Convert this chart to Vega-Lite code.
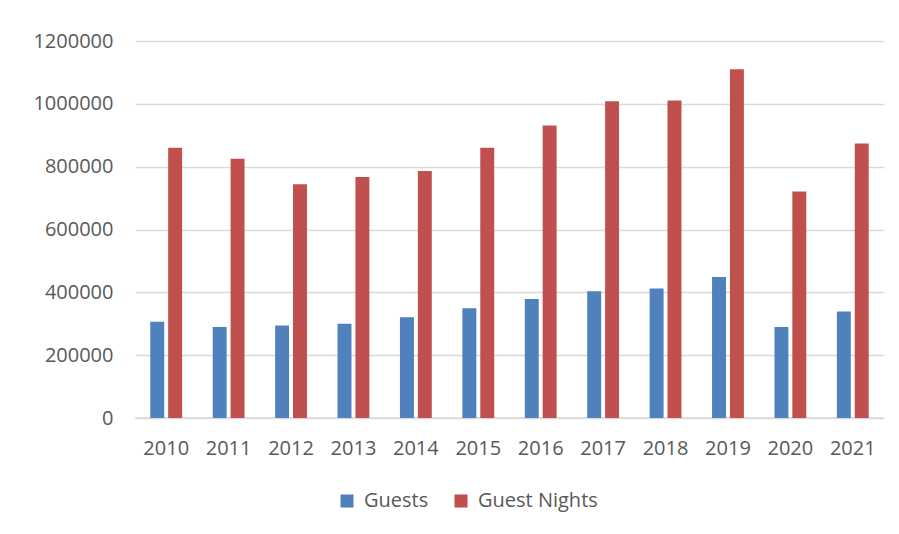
{
  "$schema": "https://vega.github.io/schema/vega-lite/v6.json",
  "autosize": "none",
  "width": 749,
  "height": 377,
  "padding": {"left": 135, "top": 41, "right": 15, "bottom": 116},
  "background": "white",
  "config": {
    "view": {"stroke": null},
    "font": "Open Sans",
    "axis": {"labelFont": "Open Sans", "labelColor": "#595959", "labelFontSize": 20, "domain": false, "ticks": false, "title": null}
  },
  "data": {
    "values": [
      {"year": "2010", "series": "Guests", "value": 306000},
      {"year": "2010", "series": "Guest Nights", "value": 860000},
      {"year": "2011", "series": "Guests", "value": 290000},
      {"year": "2011", "series": "Guest Nights", "value": 825000},
      {"year": "2012", "series": "Guests", "value": 294500},
      {"year": "2012", "series": "Guest Nights", "value": 744000},
      {"year": "2013", "series": "Guests", "value": 300000},
      {"year": "2013", "series": "Guest Nights", "value": 767000},
      {"year": "2014", "series": "Guests", "value": 321000},
      {"year": "2014", "series": "Guest Nights", "value": 786000},
      {"year": "2015", "series": "Guests", "value": 349500},
      {"year": "2015", "series": "Guest Nights", "value": 860000},
      {"year": "2016", "series": "Guests", "value": 379000},
      {"year": "2016", "series": "Guest Nights", "value": 931000},
      {"year": "2017", "series": "Guests", "value": 403600},
      {"year": "2017", "series": "Guest Nights", "value": 1008500},
      {"year": "2018", "series": "Guests", "value": 412000},
      {"year": "2018", "series": "Guest Nights", "value": 1010600},
      {"year": "2019", "series": "Guests", "value": 449000},
      {"year": "2019", "series": "Guest Nights", "value": 1110000},
      {"year": "2020", "series": "Guests", "value": 290000},
      {"year": "2020", "series": "Guest Nights", "value": 721000},
      {"year": "2021", "series": "Guests", "value": 339000},
      {"year": "2021", "series": "Guest Nights", "value": 874000}
    ]
  },
  "layer": [
    {
      "mark": {"type": "rule", "color": "#D9D9D9", "strokeWidth": 1.5},
      "data": {"values": [{"z": 0}]},
      "encoding": {"y": {"field": "z", "type": "quantitative"}}
    },
    {
      "mark": {"type": "bar"},
      "encoding": {
        "x": {
          "field": "year", "type": "nominal",
          "scale": {"paddingInner": 0.49, "paddingOuter": 0.245},
          "axis": {"labelAngle": 0, "labelPadding": 20, "grid": false}
        },
        "xOffset": {
          "field": "series", "type": "nominal",
          "sort": ["Guests", "Guest Nights"],
          "scale": {"paddingInner": 0.22, "paddingOuter": 0}
        },
        "y": {
          "field": "value", "type": "quantitative",
          "scale": {"domain": [0, 1200000], "nice": false},
          "axis": {"values": [0, 200000, 400000, 600000, 800000, 1000000, 1200000], "format": "d", "labelPadding": 22, "grid": true, "gridColor": "#D9D9D9", "gridWidth": 1.5}
        },
        "color": {
          "field": "series", "type": "nominal",
          "sort": ["Guests", "Guest Nights"],
          "scale": {"domain": ["Guests", "Guest Nights"], "range": ["#4F81BD", "#C0504D"]},
          "legend": {
            "title": null, "orient": "none", "direction": "horizontal",
            "legendX": 202, "legendY": 450,
            "symbolType": "square", "symbolSize": 170, "symbolStrokeWidth": 0,
            "labelFontSize": 20, "labelColor": "#595959", "labelFont": "Open Sans",
            "columnPadding": 22, "symbolOffset": 0, "labelOffset": 7
          }
        }
      }
    }
  ]
}
